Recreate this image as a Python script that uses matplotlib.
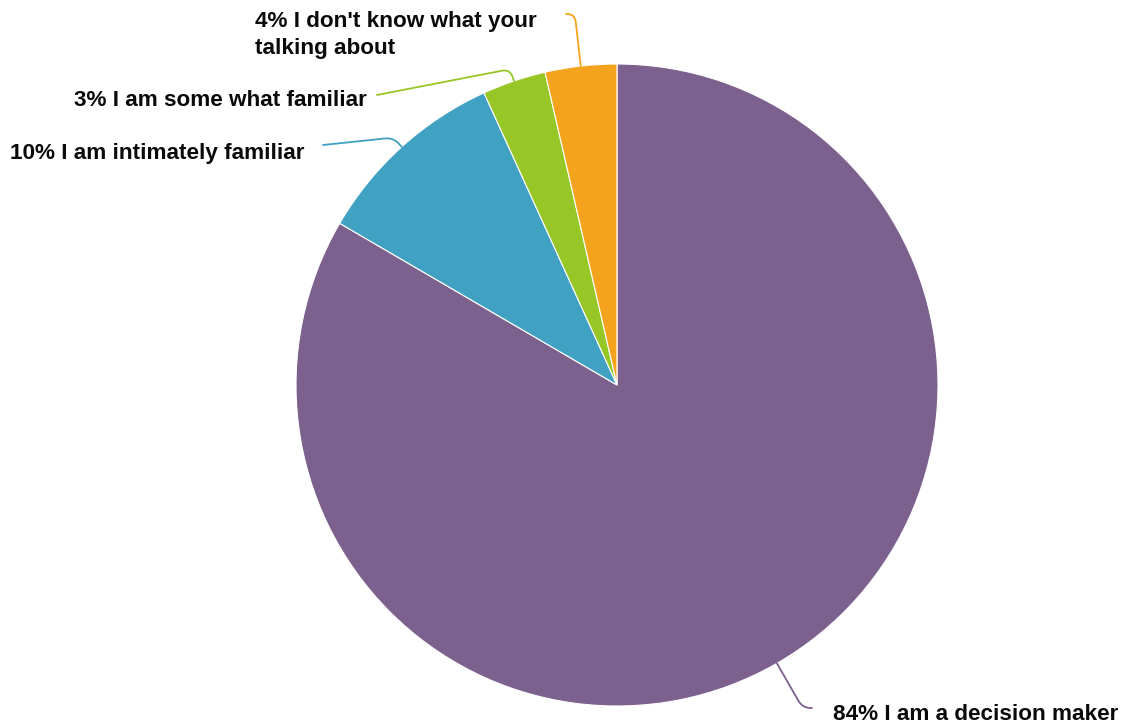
import numpy as np
import matplotlib
matplotlib.use("Agg")
import matplotlib.pyplot as plt

# survey answers, clockwise from 12 o'clock
labels = [
    "84% I am a decision maker",
    "10% I am intimately familiar",
    "3% I am some what familiar",
    "4% I don't know what your\ntalking about",
]
values = [83.4, 9.8, 3.2, 3.6]
colors = ["#7c608e", "#40a1c2", "#96c727", "#f4a41c"]

W, H = 1125, 728
CX, CY, R = 617, H - 385, 321

# label anchor (pixel, top-left origin), alignment, leader end, angle of leader leaving label
label_pos = [
    ((833, 714), "left", (812, 708), 180),
    ((304, 153), "right", (323, 145), 6),
    ((367, 101), "right", (377, 95), 11),
    ((255, 35), "left", (566, 14), 0),
]

fig = plt.figure(figsize=(W / 100, H / 100), dpi=100)
ax = fig.add_axes([0, 0, 1, 1])

wedges, _ = ax.pie(values, colors=colors, startangle=90, counterclock=False,
                   center=(CX, CY), radius=R, frame=True,
                   wedgeprops=dict(edgecolor="white", linewidth=0.8))
ax.set_xlim(0, W)
ax.set_ylim(0, H)
ax.set_aspect("equal")
ax.axis("off")

font = ["Liberation Sans", "DejaVu Sans"]
for w, lab, c, (tp, ha, lend, angA) in zip(wedges, labels, colors, label_pos):
    mid = np.deg2rad((w.theta1 + w.theta2) / 2)
    start = (CX + R * np.cos(mid), CY + R * np.sin(mid))
    ax.annotate("", xy=start, xytext=(lend[0], H - lend[1]),
                arrowprops=dict(arrowstyle="-", color=c, lw=1.3,
                                shrinkA=0, shrinkB=0,
                                connectionstyle=f"angle,angleA={angA},angleB={np.rad2deg(mid):.1f},rad=8"))
    ax.text(tp[0], H - tp[1], lab, ha=ha, va="center", fontsize=16.2,
            fontweight="bold", family=font, color="#0a0a0a", linespacing=1.36)

fig.savefig("out.png", dpi=100)
